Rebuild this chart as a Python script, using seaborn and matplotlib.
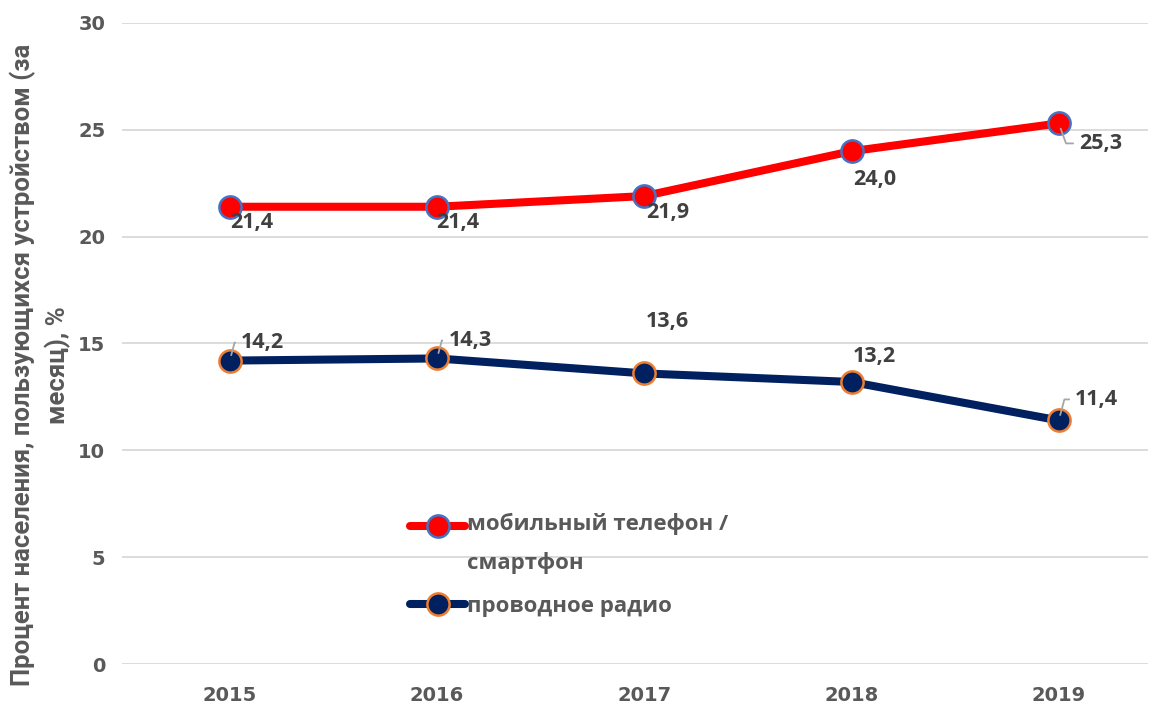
import matplotlib
matplotlib.use("Agg")
import matplotlib.pyplot as plt
import seaborn as sns
import pandas as pd
from matplotlib.lines import Line2D
from matplotlib.legend_handler import HandlerLine2D

years = ["2015", "2016", "2017", "2018", "2019"]
mobile = [21.4, 21.4, 21.9, 24.0, 25.3]
radio = [14.2, 14.3, 13.6, 13.2, 11.4]
series_names = ["мобильный телефон /\nсмартфон", "проводное радио"]

df = pd.DataFrame({
    "year": years * 2,
    "value": mobile + radio,
    "series": [series_names[0]] * len(years) + [series_names[1]] * len(years),
})

sns.set_theme(style="white")
plt.rcParams["font.family"] = ["Open Sans", "DejaVu Sans"]

fig = plt.figure(figsize=(11.54, 7.07), dpi=100)
ax = fig.add_axes([0.1057, 0.0608, 0.889, 0.9067])

line_colors = {series_names[0]: "#FF0000", series_names[1]: "#002060"}
edge_colors = {series_names[0]: "#4472C4", series_names[1]: "#ED7D31"}

sns.lineplot(data=df, x="year", y="value", hue="series", palette=line_colors,
             sort=False, linewidth=5.8, ax=ax, legend=False, zorder=3)
for name in series_names:
    sub = df[df["series"] == name]
    ax.plot(sub["year"], sub["value"], linestyle="none", marker="o",
            markersize=16, markerfacecolor=line_colors[name],
            markeredgecolor=edge_colors[name], markeredgewidth=1.8, zorder=4)

ax.set_xlim(-0.52, 4.43)
ax.set_ylim(0, 30)
ax.set_yticks(range(0, 31, 5))
ax.yaxis.grid(True, color="#D9D9D9", linewidth=1.3)
ax.set_axisbelow(True)
for s in ax.spines.values():
    s.set_visible(False)
ax.tick_params(axis="both", length=0, labelsize=14, labelcolor="#595959")
for lab in ax.get_xticklabels() + ax.get_yticklabels():
    lab.set_fontfamily("DejaVu Sans")
    lab.set_fontweight("bold")
ax.tick_params(axis="x", pad=16)
ax.tick_params(axis="y", pad=12)
ax.set_xlabel("")
ax.set_ylabel("Процент населения, пользующихся устройством (за\nмесяц), %",
              fontsize=18.5, fontweight="bold", color="#595959",
              family=["Liberation Sans Narrow", "Roboto"],
              linespacing=1.42)
ax.yaxis.set_label_coords(-0.05, 0.466)

# value labels: offsets in pixels, optional leader line angle
mobile_off = [(22, -16, None), (21, -16, None), (23, -16, None), (23, -28, None), (42, -20, 110)]
radio_off = [(33, 18, 75), (33, 18, 75), (23, 52, None), (23, 25, None), (38, 21, 75)]
for vals, offs in ((mobile, mobile_off), (radio, radio_off)):
    for i, (v, (dx, dy, lead)) in enumerate(zip(vals, offs)):
        txt = f"{v:.1f}".replace(".", ",")
        kw = {}
        if lead is not None:
            kw["arrowprops"] = dict(arrowstyle="-", color="#A6A6A6", lw=1.3,
                                    shrinkA=2, shrinkB=4,
                                    connectionstyle=f"angle,angleA=0,angleB={lead},rad=0",
                                    relpos=(0, 0.5))
        ax.annotate(txt, xy=(i, v), xytext=(dx, dy), textcoords="offset pixels",
                    ha="center", va="center", fontsize=15.5, fontweight="bold",
                    color="#404040", zorder=5, **kw)


class TopLineHandler(HandlerLine2D):
    """Legend handler that aligns the key with the first line of a wrapped label."""

    def __init__(self, shift, **kw):
        super().__init__(**kw)
        self.shift = shift

    def create_artists(self, legend, orig_handle, xdescent, ydescent,
                       width, height, fontsize, trans):
        return super().create_artists(legend, orig_handle, xdescent,
                                      ydescent - self.shift, width, height,
                                      fontsize, trans)


handles = [Line2D([], [], color=line_colors[n], lw=5.8, marker="o", markersize=16,
                  markerfacecolor=line_colors[n], markeredgecolor=edge_colors[n],
                  markeredgewidth=1.8) for n in series_names]
leg = ax.legend(handles, series_names, loc="upper left",
                bbox_to_anchor=(0.272, 0.25), frameon=False,
                prop={"size": 16, "weight": "bold"}, handlelength=2.5,
                handletextpad=0.05, labelspacing=1.0, borderaxespad=0,
                handler_map={handles[0]: TopLineHandler(shift=25)})
for t in leg.get_texts():
    t.set_color("#595959")
    t.set_linespacing(2.0)

fig.savefig("out.png", dpi=100)
